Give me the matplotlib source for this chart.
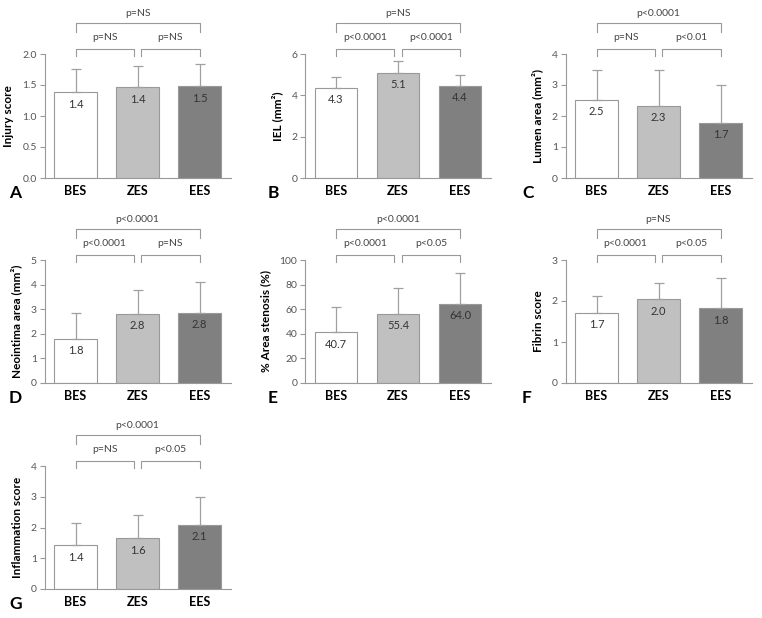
import matplotlib
matplotlib.use("Agg")
import matplotlib.pyplot as plt

plt.rcParams['font.family'] = ['Lato', 'DejaVu Sans']

groups = ["BES", "ZES", "EES"]
bar_colors = ["#ffffff", "#c0c0c0", "#808080"]

# panel data: means, top of error bars, printed labels
injury_mean = [1.38, 1.46, 1.48]
injury_err = [1.76, 1.80, 1.84]
injury_lbl = ["1.4", "1.4", "1.5"]

iel_mean = [4.35, 5.10, 4.45]
iel_err = [4.89, 5.66, 4.98]
iel_lbl = ["4.3", "5.1", "4.4"]

lumen_mean = [2.52, 2.32, 1.77]
lumen_err = [3.49, 3.47, 3.00]
lumen_lbl = ["2.5", "2.3", "1.7"]

neo_mean = [1.80, 2.80, 2.86]
neo_err = [2.83, 3.78, 4.11]
neo_lbl = ["1.8", "2.8", "2.8"]

sten_mean = [41.1, 56.5, 64.4]
sten_err = [61.9, 76.9, 89.8]
sten_lbl = ["40.7", "55.4", "64.0"]

fibrin_mean = [1.71, 2.04, 1.82]
fibrin_err = [2.11, 2.45, 2.57]
fibrin_lbl = ["1.7", "2.0", "1.8"]

infl_mean = [1.42, 1.65, 2.08]
infl_err = [2.14, 2.40, 2.98]
infl_lbl = ["1.4", "1.6", "2.1"]

panels = [
    ("A", "Injury score", injury_mean, injury_err, injury_lbl, [0, 0.5, 1.0, 1.5, 2.0], "{:.1f}",
     ["p=NS", "p=NS", "p=NS"]),
    ("B", "IEL (mm²)", iel_mean, iel_err, iel_lbl, [0, 2, 4, 6], "{:.0f}",
     ["p<0.0001", "p<0.0001", "p=NS"]),
    ("C", "Lumen area (mm²)", lumen_mean, lumen_err, lumen_lbl, [0, 1, 2, 3, 4], "{:.0f}",
     ["p=NS", "p<0.01", "p<0.0001"]),
    ("D", "Neointima area (mm²)", neo_mean, neo_err, neo_lbl, [0, 1, 2, 3, 4, 5], "{:.0f}",
     ["p<0.0001", "p=NS", "p<0.0001"]),
    ("E", "% Area stenosis (%)", sten_mean, sten_err, sten_lbl, [0, 20, 40, 60, 80, 100], "{:.0f}",
     ["p<0.0001", "p<0.05", "p<0.0001"]),
    ("F", "Fibrin score", fibrin_mean, fibrin_err, fibrin_lbl, [0, 1, 2, 3], "{:.0f}",
     ["p<0.0001", "p<0.05", "p=NS"]),
    ("G", "Inflammation score", infl_mean, infl_err, infl_lbl, [0, 1, 2, 3, 4], "{:.0f}",
     ["p=NS", "p<0.05", "p<0.0001"]),
]

W, H = 762, 618
fig = plt.figure(figsize=(W / 100, H / 100), dpi=100)

# axes placement in pixels: (left, top, bottom)
col_left = [44.5, 305, 565.5]
row_box = [(54, 178), (260, 383), (466, 589)]
ax_w = 186
gray = "#999999"

for i, (letter, ylab, mean, err, lbl, ticks, fmt, pvals) in enumerate(panels):
    r, c = divmod(i, 3)
    top, bot = row_box[r]
    h = bot - top
    ax = fig.add_axes([col_left[c] / W, 1 - bot / H, ax_w / W, h / H])
    x = list(range(len(groups)))
    ax.bar(x, mean, width=0.69, color=bar_colors, edgecolor=gray, linewidth=0.8, zorder=2)
    upper = [e - m for e, m in zip(err, mean)]
    ax.errorbar(x, mean, yerr=[[0] * 3, upper], fmt="none", ecolor="#a0a0a0",
                elinewidth=0.9, capsize=3.3, capthick=0.9, zorder=3)
    for xi, m, t in zip(x, mean, lbl):
        ax.annotate(t, (xi, m), xytext=(0, -8.5), textcoords="offset points",
                    ha="center", va="center", fontsize=8, color="#333333")
    ax.set_xlim(-0.5, 2.5)
    ax.set_ylim(ticks[0], ticks[-1])
    ax.set_yticks(ticks)
    ax.set_yticklabels([fmt.format(t) for t in ticks])
    ax.set_xticks(x)
    ax.set_xticklabels(groups, fontweight="bold", fontsize=9)
    ax.tick_params(axis="x", length=0, pad=5, colors="black")
    ax.tick_params(axis="y", length=3.5, width=0.8, color=gray, labelcolor="#555555",
                   labelsize=7.5, pad=2)
    for s in ["top", "right"]:
        ax.spines[s].set_visible(False)
    for s in ["left", "bottom"]:
        ax.spines[s].set_color(gray)
        ax.spines[s].set_linewidth(0.8)
    ax.set_ylabel(ylab, fontsize=8.5, fontweight="bold", labelpad=6)

    # significance brackets (pixel offsets above axes top)
    def fy(px):
        return 1 + px / h
    tr = ax.get_xaxis_transform()
    low_y, low_leg = 5, 7
    high_y, high_leg = 31, 9
    for (x0, x1), p in zip([(0, 0.94), (1.06, 2)], pvals[:2]):
        ax.plot([x0, x0, x1, x1], [fy(low_y - low_leg), fy(low_y), fy(low_y), fy(low_y - low_leg)],
                color=gray, lw=0.8, transform=tr, clip_on=False)
        ax.text((x0 + x1) / 2, fy(16), p, transform=tr, ha="center", va="center",
                fontsize=7.5, color="#444444")
    ax.plot([0, 0, 2, 2], [fy(high_y - high_leg), fy(high_y), fy(high_y), fy(high_y - high_leg)],
            color=gray, lw=0.8, transform=tr, clip_on=False)
    ax.text(1, fy(40), pvals[2], transform=tr, ha="center", va="center",
            fontsize=7.5, color="#444444")

    lx = [9, 268, 522][c]
    ly = bot + 15
    fig.text(lx / W, 1 - ly / H, letter, fontsize=12.5, fontweight="bold",
             ha="left", va="center", color="black")

fig.savefig("out.png", dpi=100)
